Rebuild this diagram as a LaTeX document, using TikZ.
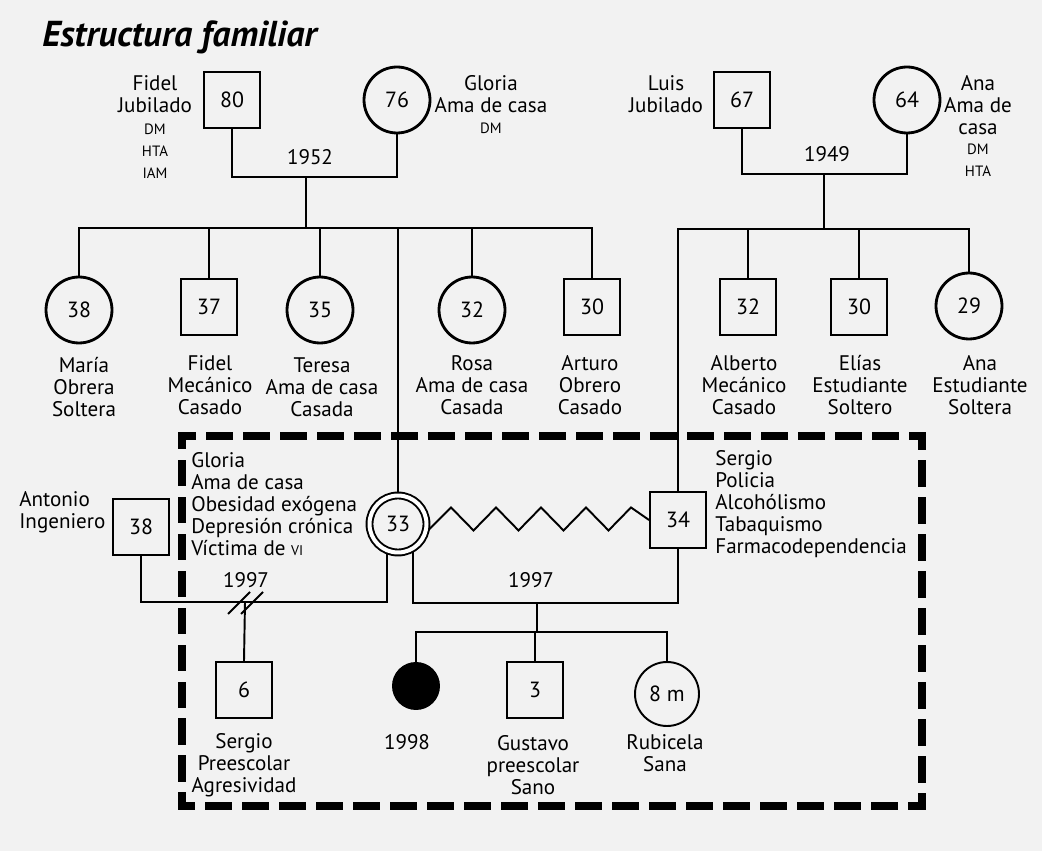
\documentclass[tikz,border=0pt]{standalone}
\usepackage{fontspec}
\setmainfont{PT Sans}
\usetikzlibrary{positioning}
\tikzset{
  male/.style     = {rectangle, draw=black, line width=1.6pt,
                     minimum size=1.12cm, inner sep=0pt, font=\fontsize{12.5}{13}\selectfont},
  malethin/.style = {male, line width=1.1pt},
  fem/.style      = {circle, draw=black, line width=1.6pt,
                     minimum size=1.32cm, inner sep=0pt, font=\fontsize{12.5}{13}\selectfont},
  femthin/.style  = {fem, line width=1.1pt, minimum size=1.28cm},
  index/.style    = {circle, draw=black, line width=1.1pt, double, double distance=0.08cm,
                     minimum size=1.14cm, inner sep=0pt, outer sep=0.06cm,
                     font=\fontsize{12.5}{13}\selectfont},
  deadfill/.style = {circle, fill=black, minimum size=0.96cm, inner sep=0pt},
  txt/.style      = {align=center, inner sep=0pt, font=\fontsize{12}{12.5}\selectfont},
  tiny/.style     = {align=center, inner sep=0pt, font=\fontsize{8.5}{12.5}\selectfont},
  heading/.style  = {inner sep=0pt, font=\fontsize{20.5}{24}\selectfont\bfseries\itshape},
  rel/.style      = {line width=1.6pt},
  relthin/.style  = {line width=1.1pt},
  household/.style= {line width=4.5pt, line cap=rect,
                     dash pattern=on 0.38cm off 0.36cm, dash phase=0.19cm},
}

\begin{document}
\begin{tikzpicture}[x=0.02cm, y=-0.02cm]

  % paper
  \fill[black!5] (0,0) rectangle (1042,851);
  \useasboundingbox (0,0) rectangle (1042,851);

  \node[heading, anchor=west] (title) at (42,37) {Estructura familiar};

  % ── Abuelos ─────────────────────────────────────────────────────
  \node[male] (fidel80)  at (232,100) {80};
  \node[fem]  (gloria76) at (397,100) {76};
  \node[male] (luis67)   at (742,100) {67};
  \node[fem]  (ana64)    at (907,100) {64};

  \node[txt]  (fidel80L)  at (155,94)  {Fidel\\Jubilado};
  \node[tiny] (fidel80D)  at (155,151) {DM\\HTA\\IAM};
  \node[txt]  (gloria76L) at (491,94)  {Gloria\\Ama de casa};
  \node[tiny] (gloria76D) at (491,128) {DM};
  \node[txt]  (luis67L)   at (666,94)  {Luis\\Jubilado};
  \node[txt]  (ana64L)    at (978,105) {Ana\\Ama de\\casa};
  \node[tiny] (ana64D)    at (978,160) {DM\\HTA};

  % ── Uniones 1952 / 1949 ─────────────────────────────────────────
  \coordinate (m1952) at (306,177);
  \coordinate (s1952) at (306,228);
  \coordinate (m1949) at (824,174);
  \coordinate (s1949) at (824,229);

  \draw[rel] (fidel80.south) |- (m1952) -| (gloria76.south);
  \draw[rel] (m1952) -- (s1952);
  \node[txt] (y1952) at (310,157) {1952};

  \draw[rel] (luis67.south) |- (m1949) -| (ana64.south);
  \draw[rel] (m1949) -- (s1949);
  \node[txt] (y1949) at (827,154) {1949};

  % ── Hijos ───────────────────────────────────────────────────────
  \node[fem]  (maria38)   at (79,310)  {38};
  \node[male] (fidel37)   at (209,307) {37};
  \node[fem]  (teresa35)  at (320,310) {35};
  \node[fem]  (rosa32)    at (472,310) {32};
  \node[male] (arturo30)  at (592,307) {30};
  \node[male] (alberto32) at (748,307) {32};
  \node[male] (elias30)   at (859,307) {30};
  \node[fem]  (ana29)     at (969,306) {29};

  \node[txt] (maria38L)   at (84,387)  {María\\Obrera\\Soltera};
  \node[txt] (fidel37L)   at (210,385) {Fidel\\Mecánico\\Casado};
  \node[txt] (teresa35L)  at (322,387) {Teresa\\Ama de casa\\Casada};
  \node[txt] (rosa32L)    at (472,385) {Rosa\\Ama de casa\\Casada};
  \node[txt] (arturo30L)  at (590,385) {Arturo\\Obrero\\Casado};
  \node[txt] (alberto32L) at (744,385) {Alberto\\Mecánico\\Casado};
  \node[txt] (elias30L)   at (860,385) {Elías\\Estudiante\\Soltero};
  \node[txt] (ana29L)     at (980,385) {Ana\\Estudiante\\Soltera};

  % ── Pareja índice ───────────────────────────────────────────────
  \node[index]    (gloria33)  at (398,524) {33};
  \node[malethin] (sergio34)  at (678,520) {34};
  \node[malethin] (antonio38) at (141,527) {38};

  \node[txt, align=left, anchor=west] (gloria33L) at (191,504)
    {Gloria\\Ama de casa\\Obesidad exógena\\Depresión crónica\\Víctima de {\footnotesize VI}};
  \node[txt, align=left, anchor=west] (sergio34L) at (715,504)
    {Sergio\\Policia\\Alcohólismo\\Tabaquismo\\Farmacodependencia};
  \node[txt, align=left, anchor=west] (antonio38L) at (19,512) {Antonio\\Ingeniero};

  \draw[rel] (maria38.north) |- (s1952) -| (arturo30.north);
  \foreach \k in {fidel37, teresa35, rosa32}
    \draw[rel] (\k.north) -- (\k.north |- s1952);
  \draw[rel] (gloria33.north) -- (gloria33.north |- s1952);

  \draw[rel] (sergio34.north) |- (s1949) -| (ana29.north);
  \foreach \k in {alberto32, elias30}
    \draw[rel] (\k.north) -- (\k.north |- s1949);

  % relacion conflictiva
  \draw[relthin] (gloria33.-10) -- ++(22,-22)
    \foreach \i in {1,...,4} { -- ++(22.5,23) -- ++(22.5,-23) } -- (sergio34.west);

  % ── Uniones 1997 ────────────────────────────────────────────────
  \coordinate (m1997a) at (245,602);
  \coordinate (m1997b) at (537,603);
  \coordinate (s1997b) at (537,632);

  \draw[relthin] (antonio38.south) |- (m1997a) -| (gloria33.250);
  \draw[relthin] ([shift={(-17,12)}]m1997a) -- ([shift={(5,-10)}]m1997a);
  \draw[relthin] ([shift={(-4,12)}]m1997a) -- ([shift={(18,-10)}]m1997a);
  \node[txt] (y1997a) at (246,580) {1997};

  \draw[relthin] (gloria33.298) |- (m1997b) -| (sergio34.south);
  \draw[relthin] (m1997b) -- (s1997b);
  \node[txt] (y1997b) at (531,580) {1997};

  % ── Nietos ──────────────────────────────────────────────────────
  \node[malethin] (sergio6)  at (244,690) {6};
  \node[deadfill] (dead98)   at (416,686) {};
  \node[malethin] (gustavo3) at (535,690) {3};
  \node[femthin]  (rubi8)    at (667,694) {8 m};

  \draw[relthin] (m1997a) -- (sergio6.north);
  \draw[relthin] (dead98.north) |- (s1997b) -| (rubi8.north);
  \draw[relthin] (gustavo3.north) -- (gustavo3.north |- s1997b);

  \node[txt] (sergio6L)  at (244,765) {Sergio\\Preescolar\\Agresividad};
  \node[txt] (dead98L)   at (407,742) {1998};
  \node[txt] (gustavo3L) at (533,765) {Gustavo\\preescolar\\Sano};
  \node[txt] (rubi8L)    at (665,753) {Rubicela\\Sana};

  % hogar
  \draw[household] (182,436) rectangle (922,806);

\end{tikzpicture}
\end{document}
